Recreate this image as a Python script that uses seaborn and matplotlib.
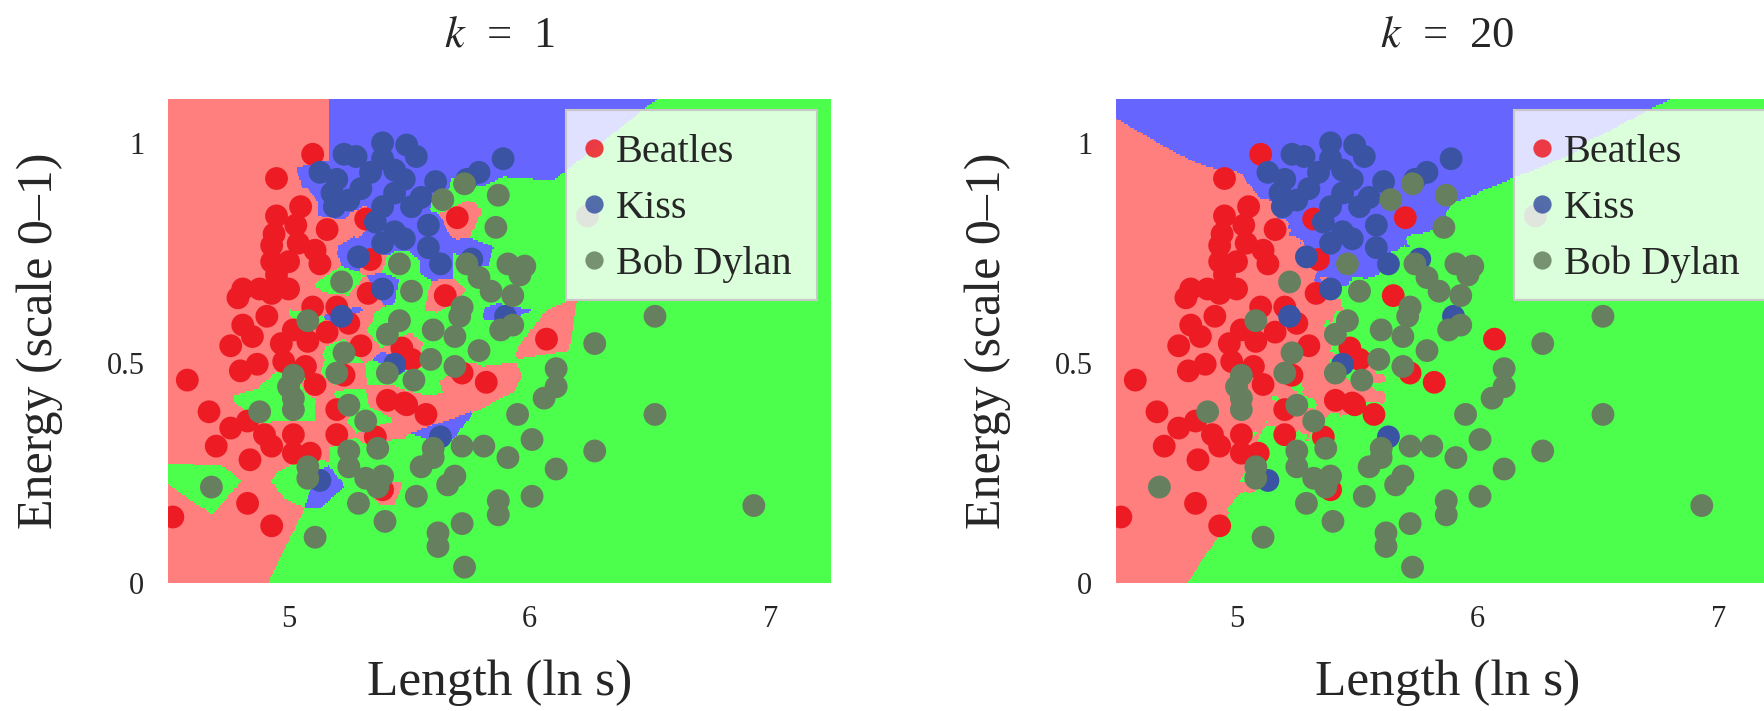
import numpy as np
import pandas as pd
import matplotlib
matplotlib.use("Agg")
import matplotlib.pyplot as plt
import seaborn as sns
from matplotlib.colors import ListedColormap
from matplotlib.patches import Rectangle

# Song length (ln seconds) and energy for each artist
beatles_len = [5.10, 4.95, 5.05, 4.95, 5.16, 5.03, 4.94, 5.32, 4.93, 5.04, 5.11, 5.13, 5.00,
               4.93, 5.34, 4.81, 4.88, 4.79, 4.95, 5.00, 4.93, 5.10, 5.20, 5.33, 5.65, 4.91,
               4.81, 5.02, 5.16, 5.25, 4.76, 4.85, 4.97, 5.08, 5.30, 5.47, 6.07, 4.58, 4.80,
               4.87, 4.98, 5.07, 5.11, 5.23, 5.51, 5.72, 5.82, 4.67, 4.76, 4.83, 4.90, 5.02,
               4.70, 4.84, 4.93, 5.02, 5.09, 5.20, 5.20, 5.41, 5.48, 5.57, 5.36, 5.39, 4.83,
               4.52, 4.93, 5.70, 5.49]
beatles_energy = [0.974, 0.919, 0.855, 0.834, 0.803, 0.813, 0.793, 0.827, 0.767, 0.772, 0.756,
                  0.725, 0.730, 0.730, 0.735, 0.668, 0.668, 0.648, 0.700, 0.668, 0.658, 0.627,
                  0.627, 0.658, 0.653, 0.606, 0.586, 0.575, 0.570, 0.590, 0.539, 0.560, 0.544,
                  0.549, 0.539, 0.534, 0.554, 0.461, 0.482, 0.497, 0.503, 0.492, 0.451, 0.472,
                  0.508, 0.477, 0.456, 0.389, 0.352, 0.368, 0.337, 0.337, 0.311, 0.280, 0.311,
                  0.295, 0.295, 0.394, 0.337, 0.415, 0.409, 0.383, 0.332, 0.212, 0.181, 0.150,
                  0.130, 0.830, 0.405]

kiss_len = [5.23, 5.28, 5.39, 5.49, 5.53, 5.39, 5.89, 5.13, 5.20, 5.34, 5.44, 5.48, 5.61,
            5.79, 5.74, 5.18, 5.30, 5.44, 5.55, 5.19, 5.39, 5.51, 5.58, 5.44, 5.48, 5.39,
            5.58, 5.63, 5.76, 5.29, 5.39, 5.22, 5.90, 5.44, 5.63, 5.13, 5.25, 5.36]
kiss_energy = [0.974, 0.969, 1.000, 0.995, 0.969, 0.964, 0.964, 0.933, 0.917, 0.933, 0.938,
               0.917, 0.912, 0.933, 0.917, 0.886, 0.896, 0.886, 0.876, 0.855, 0.855, 0.855,
               0.813, 0.798, 0.782, 0.772, 0.762, 0.725, 0.736, 0.741, 0.668, 0.606, 0.606,
               0.497, 0.332, 0.233, 0.870, 0.820]

dylan_len = [5.73, 5.87, 5.64, 5.86, 6.24, 5.46, 5.74, 5.91, 5.98, 5.96, 5.79, 5.84, 5.93,
             5.22, 5.51, 5.72, 5.71, 5.93, 5.88, 5.08, 5.46, 5.41, 5.60, 5.69, 5.79, 6.27,
             6.52, 5.23, 5.59, 5.69, 6.11, 6.11, 5.02, 5.00, 5.20, 5.41, 5.52, 6.06, 5.02,
             5.02, 4.88, 5.25, 5.32, 5.95, 6.52, 6.01, 5.25, 5.37, 5.60, 5.72, 5.81, 5.91,
             6.27, 5.08, 5.08, 5.25, 5.32, 5.39, 5.37, 5.55, 5.60, 5.69, 5.66, 6.11, 4.68,
             5.29, 5.53, 5.87, 5.87, 6.01, 6.93, 5.40, 5.72, 5.62, 5.62, 5.11, 5.73]
dylan_energy = [0.907, 0.881, 0.871, 0.808, 0.834, 0.725, 0.725, 0.725, 0.720, 0.700, 0.694,
                0.663, 0.653, 0.684, 0.663, 0.627, 0.606, 0.586, 0.575, 0.596, 0.596, 0.565,
                0.575, 0.560, 0.528, 0.544, 0.606, 0.523, 0.508, 0.492, 0.487, 0.446, 0.472,
                0.446, 0.477, 0.477, 0.461, 0.420, 0.420, 0.394, 0.389, 0.404, 0.368, 0.383,
                0.383, 0.326, 0.300, 0.306, 0.306, 0.311, 0.311, 0.285, 0.300, 0.264, 0.238,
                0.264, 0.238, 0.243, 0.218, 0.264, 0.285, 0.243, 0.223, 0.259, 0.218, 0.181,
                0.197, 0.187, 0.155, 0.197, 0.176, 0.140, 0.135, 0.114, 0.083, 0.104, 0.036]

artists = ["Beatles", "Kiss", "Bob Dylan"]
k_values = [1, 20]
x_ticks = [5, 6, 7]
y_ticks = [0, 0.5, 1]
y_tick_labels = ["0", "0.5", "1"]

point_colors = ["#ED1C24", "#3A53A2", "#667F5F"]
region_colors = ["#FF7F7F", "#6666FF", "#4CFF4C"]

df = pd.DataFrame({
    "length": beatles_len + kiss_len + dylan_len,
    "energy": beatles_energy + kiss_energy + dylan_energy,
    "artist": (["Beatles"] * len(beatles_len) + ["Kiss"] * len(kiss_len)
               + ["Bob Dylan"] * len(dylan_len)),
})

X_LIM = (4.5, 7.25)
Y_LIM = (0.0, 1.1)


def knn_regions(k, nx=560, ny=260):
    """Predicted artist on a regular grid: k-nearest-neighbour vote on min-max scaled features."""
    pts = df[["length", "energy"]].to_numpy()
    lo, span = pts.min(0), np.ptp(pts, axis=0)
    pts_s = (pts - lo) / span
    lab = df["artist"].map({a: i for i, a in enumerate(artists)}).to_numpy()
    gx, gy = np.meshgrid(np.linspace(*X_LIM, nx), np.linspace(*Y_LIM, ny))
    grid = (np.column_stack([gx.ravel(), gy.ravel()]) - lo) / span
    out = np.empty(len(grid), dtype=int)
    step = 20000
    for s in range(0, len(grid), step):
        g = grid[s:s + step]
        d2 = ((g[:, None, :] - pts_s[None, :, :]) ** 2).sum(-1)
        if k == 1:
            out[s:s + step] = lab[d2.argmin(1)]
        else:
            idx = np.argpartition(d2, k, axis=1)[:, :k]
            votes = lab[idx]
            counts = np.stack([(votes == c).sum(1) for c in range(3)], axis=1)
            out[s:s + step] = counts.argmax(1)
    return out.reshape(ny, nx)


sns.set_theme(style="white")
plt.rcParams["font.family"] = ["Liberation Serif", "DejaVu Serif"]
plt.rcParams["mathtext.fontset"] = "stix"

fig = plt.figure(figsize=(17.65, 7.11), dpi=100)
axes = [fig.add_axes([0.0952, 0.180, 0.3756, 0.681]),
        fig.add_axes([0.6323, 0.180, 0.3756, 0.681])]

for ax, k in zip(axes, k_values):
    ax.imshow(knn_regions(k), extent=(*X_LIM, *Y_LIM), origin="lower", aspect="auto",
              interpolation="nearest", cmap=ListedColormap(region_colors), vmin=0, vmax=2,
              zorder=0)
    sns.scatterplot(data=df, x="length", y="energy", hue="artist", hue_order=artists,
                    palette=point_colors, s=270, linewidth=0, alpha=1, ax=ax, zorder=2)
    ax.set_xlim(*X_LIM)
    ax.set_ylim(*Y_LIM)
    ax.set_xticks(x_ticks)
    ax.set_yticks(y_ticks)
    ax.set_yticklabels(y_tick_labels)
    ax.tick_params(length=0, labelsize=22)
    ax.tick_params(axis="x", pad=16)
    ax.tick_params(axis="y", pad=17)
    for sp in ax.spines.values():
        sp.set_visible(False)
    ax.set_xlabel("Length (ln s)", fontsize=37, labelpad=18)
    ax.set_ylabel("Energy (scale 0\u20131)", fontsize=36, labelpad=31)
    ax.set_title(f"$k$  =  {k}", fontsize=32, pad=38)

    # legend panel
    box = dict(xy=(0.600, 0.585), width=0.379, height=0.392, transform=ax.transAxes)
    ax.add_patch(Rectangle(**box, facecolor="white", alpha=0.8, edgecolor="none", zorder=3))
    ax.add_patch(Rectangle(**box, facecolor="none", edgecolor="#C8C8C8", linewidth=1.5,
                           zorder=3))
    leg = ax.legend(title=None, loc="upper left", bbox_to_anchor=(0.624, 0.928),
                    borderaxespad=0, frameon=False, fontsize=29, markerscale=0.8,
                    handlelength=0.6, handletextpad=0.25, labelspacing=0.46, borderpad=0)
    leg.set_zorder(4)
    for h in leg.legend_handles:
        h.set_alpha(0.85)

fig.savefig("out.png", dpi=100)
